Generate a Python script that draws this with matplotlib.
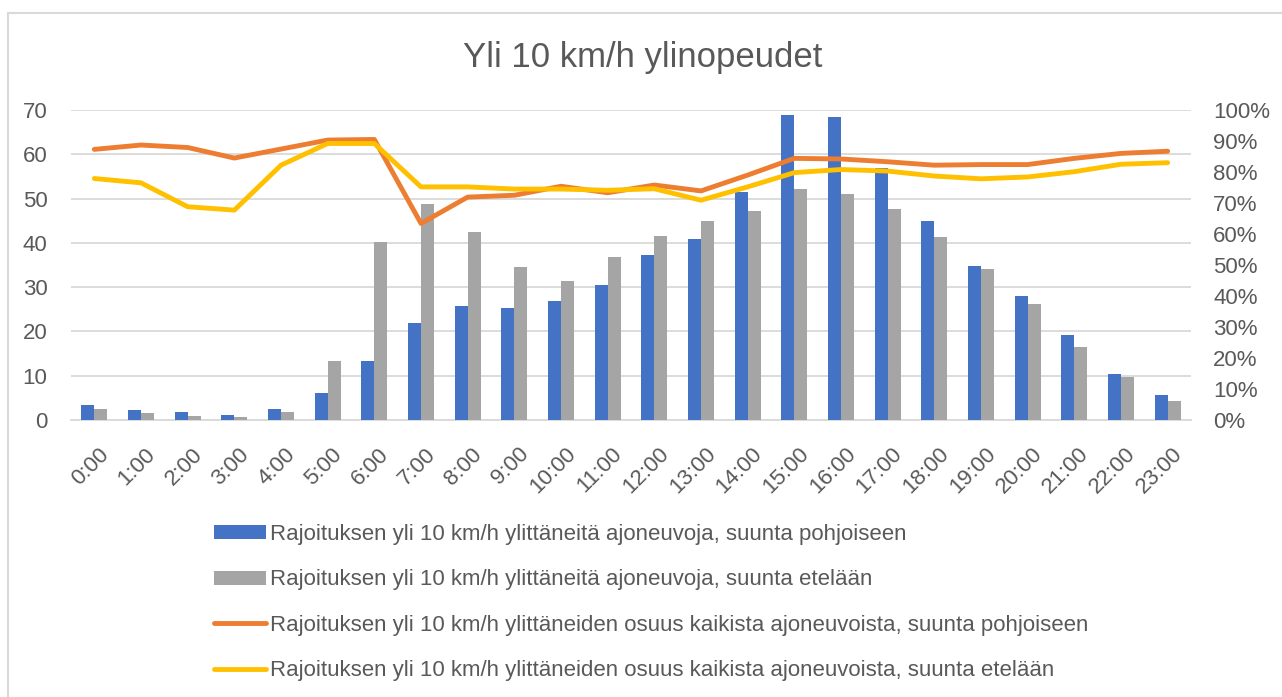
import matplotlib
matplotlib.use("Agg")
import matplotlib.pyplot as plt
import matplotlib.transforms as mtransforms
from matplotlib.lines import Line2D
import numpy as np

# ---------------- data ----------------
hours = ["0:00", "1:00", "2:00", "3:00", "4:00", "5:00", "6:00", "7:00", "8:00", "9:00",
         "10:00", "11:00", "12:00", "13:00", "14:00", "15:00", "16:00", "17:00", "18:00",
         "19:00", "20:00", "21:00", "22:00", "23:00"]
north_count = [3.3, 2.3, 1.7, 1.1, 2.4, 6.0, 13.3, 22.0, 25.7, 25.3, 26.8, 30.4, 37.3, 40.8,
               51.4, 68.8, 68.5, 56.8, 44.9, 34.8, 28.1, 19.1, 10.4, 5.7]
south_count = [2.4, 1.6, 1.0, 0.7, 1.8, 13.4, 40.3, 48.7, 42.4, 34.5, 31.4, 36.7, 41.6, 44.9,
               47.1, 52.1, 51.1, 47.6, 41.4, 34.0, 26.2, 16.4, 9.7, 4.3]
north_share = [87.3, 88.7, 87.9, 84.5, 87.4, 90.3, 90.5, 63.4, 71.9, 72.5, 75.4, 73.3, 75.8,
               73.9, 79.0, 84.4, 84.2, 83.3, 82.2, 82.4, 82.4, 84.4, 86.0, 86.7]
south_share = [77.9, 76.5, 68.8, 67.7, 82.2, 89.2, 89.2, 75.2, 75.2, 74.5, 74.5, 74.1, 74.6,
               70.9, 75.2, 79.8, 80.8, 80.3, 78.7, 77.8, 78.4, 80.1, 82.5, 83.0]
labels = ["Rajoituksen yli 10 km/h ylittäneitä ajoneuvoja, suunta pohjoiseen",
          "Rajoituksen yli 10 km/h ylittäneitä ajoneuvoja, suunta etelään",
          "Rajoituksen yli 10 km/h ylittäneiden osuus kaikista ajoneuvoista, suunta pohjoiseen",
          "Rajoituksen yli 10 km/h ylittäneiden osuus kaikista ajoneuvoista, suunta etelään"]
title = "Yli 10 km/h ylinopeudet"
left_ticks = [0, 10, 20, 30, 40, 50, 60, 70]
right_ticks = [0, 10, 20, 30, 40, 50, 60, 70, 80, 90, 100]

plt.rcParams["font.family"] = ["Liberation Sans", "DejaVu Sans"]

TXT = "#595959"
GRID = "#D9D9D9"
C_BLUE, C_GRAY, C_ORANGE, C_YELLOW = "#4472C4", "#A5A5A5", "#ED7D31", "#FFC000"

W, H = 1282, 697
fig = plt.figure(figsize=(W / 100, H / 100), dpi=100)
ax = fig.add_axes([71 / W, 1 - 420 / H, 1120 / W, 310 / H])
ax2 = ax.twinx()

x = np.arange(len(hours))
bw = 0.28
ax.bar(x - bw / 2, north_count, width=bw, color=C_BLUE, label=labels[0], zorder=3)
ax.bar(x + bw / 2, south_count, width=bw, color=C_GRAY, label=labels[1], zorder=3)

lw = 3.5
ax2.plot(x, north_share, color=C_ORANGE, lw=lw, solid_capstyle="round",
         solid_joinstyle="round", label=labels[2])
ax2.plot(x, south_share, color=C_YELLOW, lw=lw, solid_capstyle="round",
         solid_joinstyle="round", label=labels[3])

ax.set_xlim(-0.5, len(hours) - 0.5)
ax.set_ylim(0, 70)
ax2.set_ylim(0, 100)
ax.set_yticks(left_ticks)
ax2.set_yticks(right_ticks)
ax2.set_yticklabels([f"{v}%" for v in right_ticks])
ax.grid(axis="y", color=GRID, lw=1.3, zorder=0)
ax.set_axisbelow(True)
for a in (ax, ax2):
    for s in a.spines.values():
        s.set_visible(False)
ax.spines["bottom"].set_visible(True)
ax.spines["bottom"].set_color(GRID)
ax.spines["bottom"].set_linewidth(1.3)

fs = 16
ax.tick_params(axis="y", length=0, pad=17, labelsize=fs, labelcolor=TXT)
ax2.tick_params(axis="y", length=0, pad=16, labelsize=fs, labelcolor=TXT)
ax.set_xticks(x)
ax.set_xticklabels(hours)
ax.tick_params(axis="x", length=0, pad=17, labelsize=fs, labelcolor=TXT)
offset = mtransforms.ScaledTranslation(4 / 100, 0, fig.dpi_scale_trans)
for lab in ax.get_xticklabels():
    lab.set_rotation(45)
    lab.set_ha("right")
    lab.set_va("top")
    lab.set_rotation_mode("anchor")
    lab.set_transform(lab.get_transform() + offset)

fig.text(643 / W, 1 - 67 / H, title, ha="center", va="baseline",
         fontsize=25, color=TXT)

h1, l1 = ax.get_legend_handles_labels()
h2, l2 = ax2.get_legend_handles_labels()
leg = fig.legend(h1 + h2, l1 + l2, loc="upper left",
                 bbox_to_anchor=(214 / W, 1 - 524 / H), frameon=False,
                 fontsize=fs, handlelength=2.35, handleheight=0.6,
                 handletextpad=0.18, labelspacing=1.1, borderaxespad=0, borderpad=0)
for t in leg.get_texts():
    t.set_color(TXT)

# chart frame
fig.add_artist(Line2D([7.5 / W, 7.5 / W], [0, 1 - 12.5 / H], color=GRID, lw=1.5))
fig.add_artist(Line2D([7.5 / W, 1], [1 - 12.5 / H, 1 - 12.5 / H], color=GRID, lw=1.5))

fig.savefig("out.png", dpi=100)
